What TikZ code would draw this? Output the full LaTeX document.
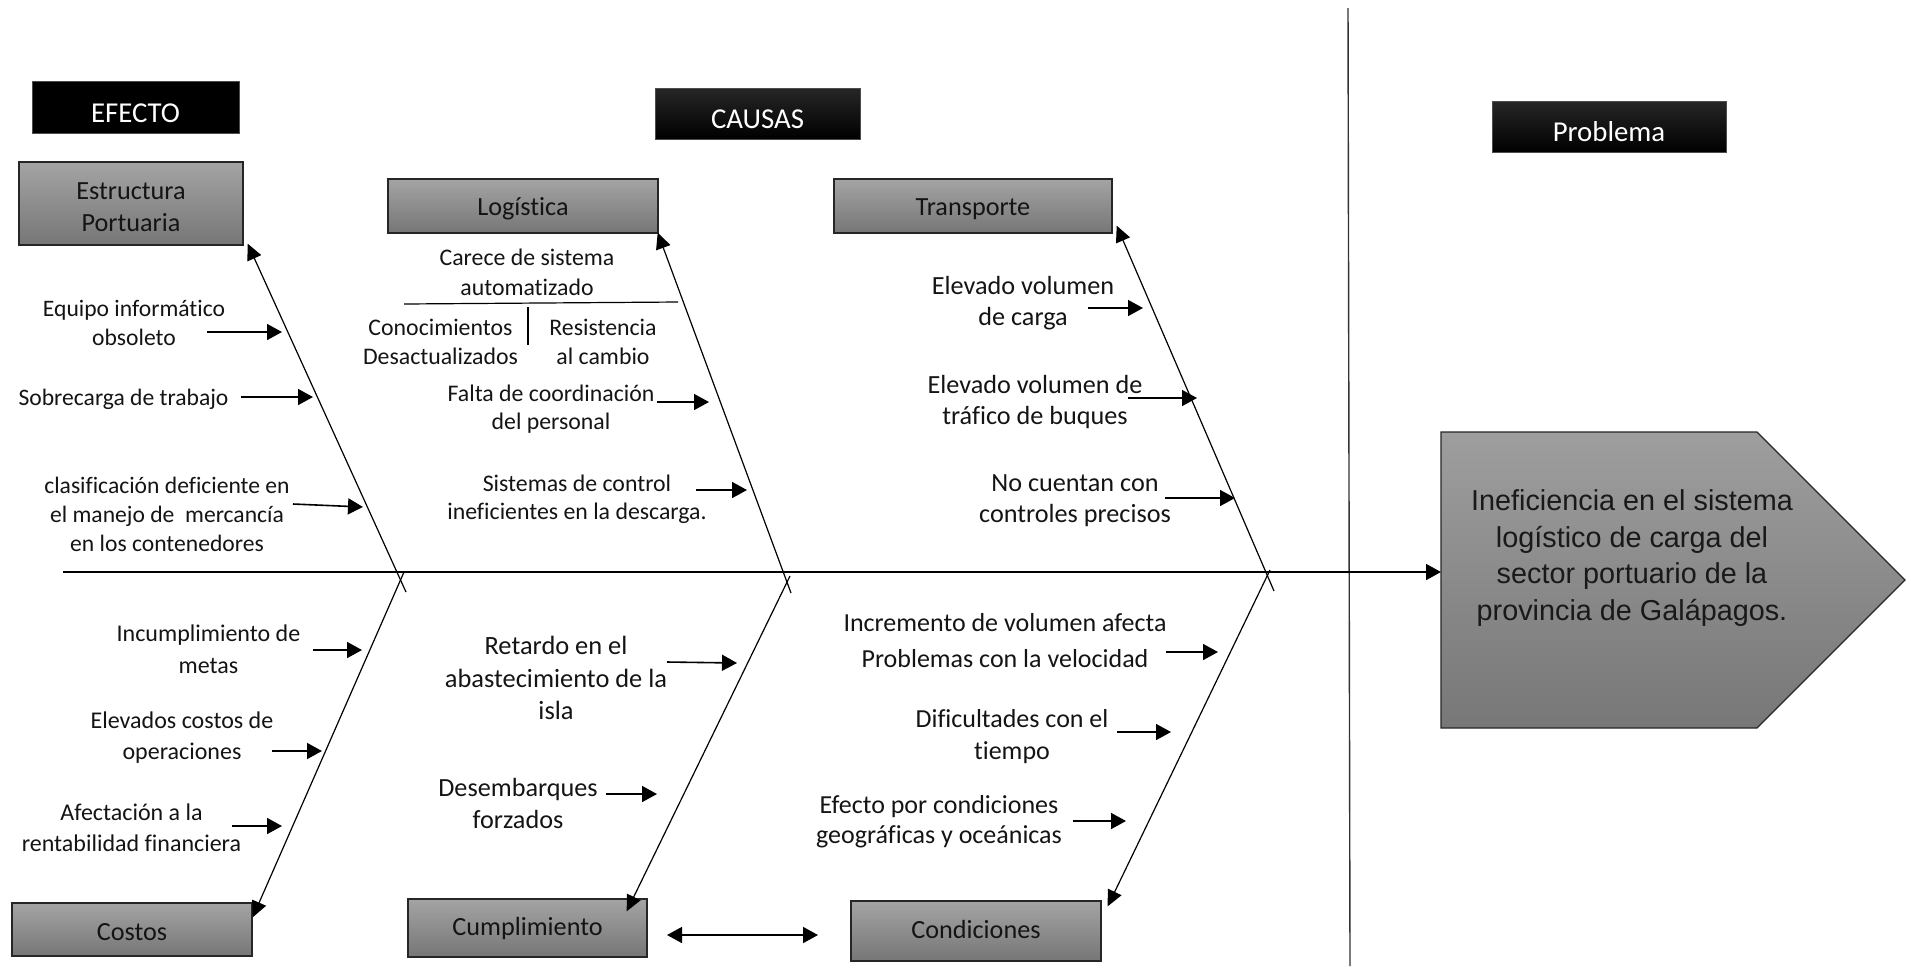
\documentclass[tikz,border=0pt]{standalone}
\usepackage{fontspec}
\setmainfont{Carlito}[Ligatures={NoCommon}]
\newfontfamily\arialfont{Liberation Sans}
\usetikzlibrary{arrows.meta,calc}
\newcommand\fsz[2]{\fontsize{#1}{#2}\selectfont}
\definecolor{boxtop}{HTML}{A4A4A4}
\definecolor{boxbot}{HTML}{767676}
\definecolor{pentop}{HTML}{9E9E9E}
\definecolor{penbot}{HTML}{777777}
\begin{document}
\begin{tikzpicture}[x=0.5pt,y=-0.5pt,
  hdr/.style={draw=black!70, line width=0.5pt, top color=black!85, middle color=black, bottom color=black,
    text=white, inner sep=0pt, font=\fsz{14.4}{17}, text height=15pt, text depth=0pt},
  catbox/.style={draw=black!85, line width=0.7pt, top color=boxtop, bottom color=boxbot, inner sep=0pt},
  cattext/.style={align=center, inner sep=0pt, text=black!92, font=\fsz{13.1}{16}},
  lbl/.style={align=center, inner sep=0pt, text=black!92},
  arr/.style={line width=0.8pt, -{Triangle[length=7.5pt,width=8pt]}},
  darr/.style={line width=0.8pt, {Triangle[length=7.5pt,width=8pt]}-{Triangle[length=7.5pt,width=8pt]}},
  bone/.style={line width=0.6pt, -{Triangle[length=8pt,width=7.5pt]}},
  thinline/.style={line width=0.6pt}]
\useasboundingbox (0,0) rectangle (1910,966);

% section headers
\node[draw=black!70, line width=0.5pt, fill=black, text=white, inner sep=0pt, font=\fsz{14.4}{17},
      text height=15pt, text depth=0pt, minimum width=103.5pt, minimum height=26pt] (efecto) at (135.5,107) {EFECTO};
\node[hdr, minimum width=102.5pt, minimum height=25.5pt] (causas) at (757.5,113.5) {CAUSAS};
\node[hdr, minimum width=117pt, minimum height=25.5pt] (problema) at (1609,126.5) {Problema};

% divider
\coordinate (divtop) at (1348,8);
\coordinate (divbot) at (1350,966);
\draw[line width=0.7pt, black!80] (divtop) -- (divbot);

% category boxes
\node[catbox, minimum width=112pt, minimum height=41.5pt] (estr) at (131,203.5) {};
\node[catbox, minimum width=135pt, minimum height=27pt] (log) at (523,206) {};
\node[catbox, minimum width=139pt, minimum height=27pt] (trans) at (973,206) {};
\node[catbox, minimum width=120pt, minimum height=26.5pt] (costos) at (132,929.5) {};
\node[catbox, minimum width=119.5pt, minimum height=29pt] (cump) at (527.5,928) {};
\node[catbox, minimum width=125pt, minimum height=30pt] (cond) at (976,931) {};
\node[cattext] (estrtxt) at ([yshift=-1.6pt]estr.center) {Estructura\\Portuaria};
\node[cattext] (logtxt) at ([yshift=-1.3pt]log.center) {Logística};
\node[cattext] (transtxt) at ([yshift=-1.5pt]trans.center) {Transporte};
\node[cattext] (costostxt) at ([yshift=-1.2pt]costos.center) {Costos};
\node[cattext] (cumptxt) at ([yshift=-0.3pt]cump.center) {Cumplimiento};
\node[cattext] (condtxt) at ([yshift=1pt]cond.center) {Condiciones};

% problem head
\path[draw=black!85, line width=0.6pt, top color=pentop, bottom color=penbot]
  (1441,432) -- (1757,432) -- (1905,580) -- (1757,728) -- (1441,728) -- cycle;
\node[lbl, font=\arialfont\fsz{14.4}{18.3}, text=black!90] (prob) at (1632,558)
  {Ineficiencia en el sistema\\logístico de carga del\\sector portuario de la\\provincia de Galápagos.};

% spine
\coordinate (spinestart) at (63,572);
\coordinate (probin) at (1441,572);
\draw[arr] (spinestart) -- (probin);

% bones
\coordinate (b1s) at (406,592);
\coordinate (b1l) at (404,572);
\coordinate (b2s) at (791,593);
\coordinate (b2l) at (790,576);
\coordinate (b3s) at (1274,591);
\coordinate (b3l) at (1270,570);
\draw[bone] (b1s) -- ([xshift=2pt,yshift=1pt]estr.south east);
\draw[bone] (b1l) -- ([yshift=-7.5pt]costos.north east);
\draw[bone] (b2s) -- ([xshift=-0.5pt,yshift=0.5pt]log.south east);
\draw[bone] (b2l) -- ([xshift=-10.5pt,yshift=-6.5pt]cump.north east);
\draw[bone] (b3s) -- ([xshift=2pt,yshift=4pt]trans.south east);
\draw[bone] (b3l) -- ([xshift=3pt,yshift=-3pt]cond.north east);

% double arrow between categories
\draw[darr] (667,935) -- (818,935);

% effect labels (left)
\node[lbl, font=\fsz{11.8}{14.5}] (eq) at (134,322.5) {Equipo informático\\obsoleto};
\node[lbl, font=\fsz{11.8}{14.5}] (sob) at (123.5,399) {Sobrecarga de trabajo};
\node[lbl, font=\fsz{11.8}{14.5}] (cla) at (167,514) {clasificación deficiente en\\el manejo de\ \ mercancía\\en los contenedores};
\node[lbl, font=\fsz{12}{16}] (inc) at (208.5,649) {Incumplimiento de\\metas};
\node[lbl, font=\fsz{12}{15.5}] (elc) at (182,737.5) {Elevados costos de\\operaciones};
\node[lbl, font=\fsz{12}{15.5}] (afe) at (131.5,827.5) {Afectación a la\\rentabilidad financiera};
\draw[arr] (207,332) -- (282,332);
\draw[arr] (241,397) -- (313,397);
\draw[arr] (293,504) -- (363,507);
\draw[arr] (313,650) -- (362,650);
\draw[arr] (272,751) -- (322,751);
\draw[arr] (232,826) -- (282,826);

% logistics labels
\node[lbl, font=\fsz{11.9}{15}] (car) at (527,272) {Carece de sistema\\automatizado};
\draw[thinline] (404,304) -- (678,302);
\draw[thinline] (528,307) -- (528,345);
\node[lbl, font=\fsz{11.9}{14.3}] (con) at (440.5,342) {Conocimientos\\Desactualizados};
\node[lbl, font=\fsz{11.9}{14.3}] (res) at (603,342) {Resistencia\\al cambio};
\node[lbl, font=\fsz{11.9}{14}] (fal) at (551,409) {Falta de coordinación\\del personal};
\node[lbl, font=\fsz{11.9}{14}] (sis) at (577,499) {Sistemas de control\\ineficientes en la descarga.};
\draw[arr] (657,402) -- (709,402);
\draw[arr] (696,490) -- (747,490);

% compliance labels
\node[lbl, font=\fsz{13.2}{16.25}] (ret) at (556,678) {Retardo en el\\abastecimiento de la\\isla};
\node[lbl, font=\fsz{13.1}{16}] (des) at (518,803) {Desembarques\\forzados};
\draw[arr] (667,662) -- (737,663);
\draw[arr] (606,794) -- (657,794);

% transport labels
\node[lbl, font=\fsz{13.1}{15.5}] (ev1) at (1023,303.5) {Elevado volumen\\de carga};
\node[lbl, font=\fsz{13.1}{15.5}] (ev2) at (1035,402.5) {Elevado volumen de\\tráfico de buques};
\node[lbl, font=\fsz{13.1}{15.5}] (noc) at (1075,501) {No cuentan con\\controles precisos};
\draw[arr] (1088,308) -- (1143,308);
\draw[arr] (1128,398) -- (1197,398);
\draw[arr] (1165,498) -- (1235,498);

% conditions labels
\node[lbl, font=\fsz{13}{18}] (incr) at (1005,641) {Incremento de volumen afecta\\Problemas con la velocidad};
\node[lbl, font=\fsz{13}{16}] (dif) at (1012,737) {Dificultades con el\\tiempo};
\node[lbl, font=\fsz{13}{15}] (efe) at (939,822) {Efecto por condiciones\\geográficas y oceánicas};
\draw[arr] (1166,652) -- (1218,652);
\draw[arr] (1117,732) -- (1171,732);
\draw[arr] (1073,821) -- (1126,821);
\end{tikzpicture}
\end{document}
